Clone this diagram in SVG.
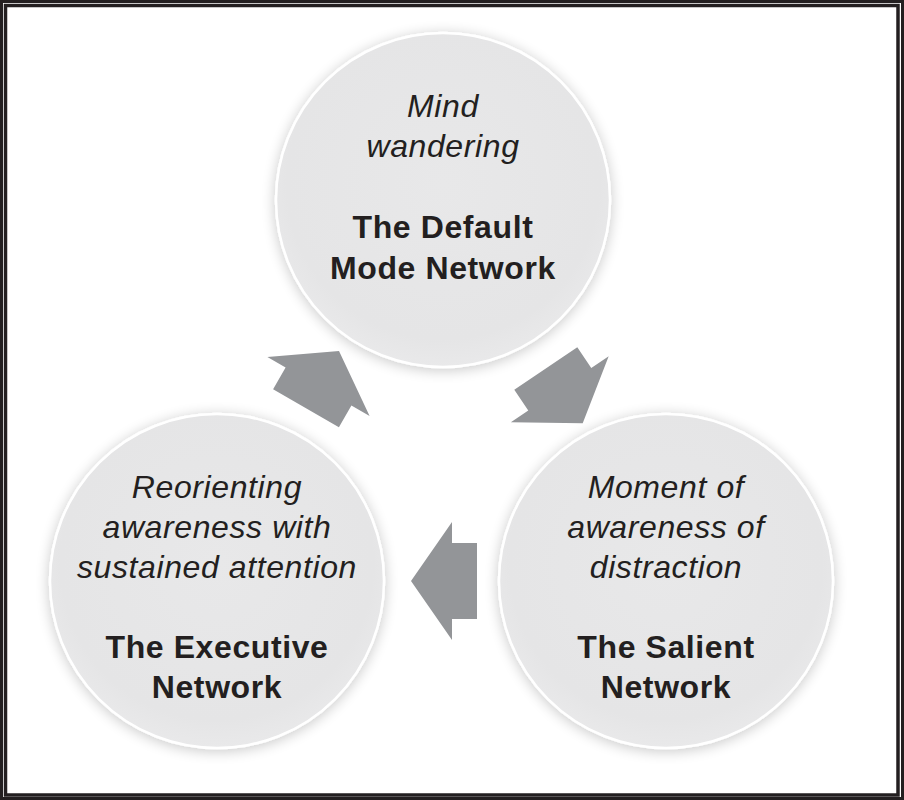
<svg xmlns="http://www.w3.org/2000/svg" width="904" height="800" viewBox="0 0 904 800">
  <style>
    .it { font-family: "Liberation Sans", Arial, sans-serif; font-style: italic; font-size: 32px; letter-spacing: 0.6px; fill: #231f20; text-anchor: middle; }
    .bd { font-family: "Liberation Sans", Arial, sans-serif; font-weight: bold; font-size: 32px; letter-spacing: 0.6px; fill: #231f20; text-anchor: middle; }
    .circ { fill: url(#cg); stroke: #ffffff; stroke-width: 2.5; filter: url(#sh); }
    .arr { fill: #939598; }
  </style>
  <defs>
    <radialGradient id="cg" cx="0.5" cy="0.45" r="0.55">
      <stop offset="0" stop-color="#e8e8e9"/>
      <stop offset="0.85" stop-color="#e5e5e6"/>
      <stop offset="1" stop-color="#e9e9ea"/>
    </radialGradient>
    <filter id="sh" x="-20%" y="-20%" width="140%" height="140%">
      <feGaussianBlur in="SourceAlpha" stdDeviation="7" result="b"/>
      <feOffset in="b" dx="0" dy="2" result="o"/>
      <feComponentTransfer in="o" result="s">
        <feFuncA type="linear" slope="0.22"/>
      </feComponentTransfer>
      <feMerge>
        <feMergeNode in="s"/>
        <feMergeNode in="SourceGraphic"/>
      </feMerge>
    </filter>
    <path id="arrow" d="M0,0 L41,-59 L41,-38 L66,-38 L66,38 L41,38 L41,59 Z"/>
  </defs>

  <rect x="0" y="0" width="904" height="800" fill="#ffffff"/>
  <rect x="1.5" y="1.5" width="901" height="797" fill="none" stroke="#231f20" stroke-width="3"/>
  <rect x="5.5" y="5.5" width="892.5" height="789.5" fill="none" stroke="#231f20" stroke-width="3.5"/>

  <g id="node-default">
    <circle class="circ" cx="443" cy="200" r="167"/>
    <text class="it" x="443" y="117">Mind</text>
    <text class="it" x="443" y="157">wandering</text>
    <text class="bd" x="443" y="238">The Default</text>
    <text class="bd" x="443" y="279">Mode Network</text>
  </g>

  <g id="node-executive">
    <circle class="circ" cx="217" cy="581" r="167"/>
    <text class="it" x="217" y="498">Reorienting</text>
    <text class="it" x="217" y="538">awareness with</text>
    <text class="it" x="217" y="578">sustained attention</text>
    <text class="bd" x="217" y="658">The Executive</text>
    <text class="bd" x="217" y="698">Network</text>
  </g>

  <g id="node-salient">
    <circle class="circ" cx="666" cy="581" r="167"/>
    <text class="it" x="666" y="498">Moment of</text>
    <text class="it" x="666" y="538">awareness of</text>
    <text class="it" x="666" y="578">distraction</text>
    <text class="bd" x="666" y="658">The Salient</text>
    <text class="bd" x="666" y="698">Network</text>
  </g>

  <g id="connectors">
    <use href="#arrow" class="arr" transform="translate(339,351) rotate(120)"/>
    <use href="#arrow" class="arr" transform="translate(582.7,423.3) rotate(-124)"/>
    <use href="#arrow" class="arr" transform="translate(411,581)"/>
  </g>
</svg>
